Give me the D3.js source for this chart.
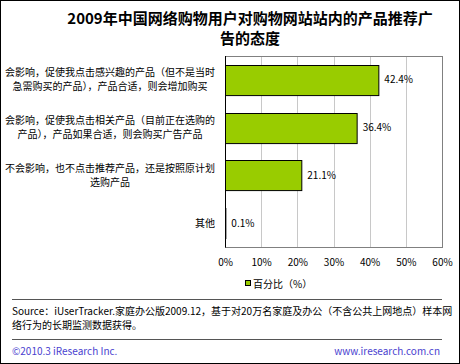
<!DOCTYPE html>
<html>
<head>
<meta charset="utf-8">
<script src="https://cdn.jsdelivr.net/npm/d3@7"></script>
<style>
  body { margin: 0; background: #fff; }
  svg text { font-family: "Noto Sans CJK SC", "DejaVu Sans", sans-serif; }
</style>
</head>
<body>
<div id="chart"></div>
<script>
var categories = [
  ["会影响，促使我点击感兴趣的产品（但不是当时", "急需购买的产品），产品合适，则会增加购买"],
  ["会影响，促使我点击相关产品（目前正在选购的", "产品），产品如果合适，则会购买广告产品"],
  ["不会影响，也不点击推荐产品，还是按照原计划", "选购产品"],
  ["其他"]
];
var values = [42.4, 36.4, 21.1, 0.1];
var tickValues = [0, 10, 20, 30, 40, 50, 60];
var titleLines = ["2009年中国网络购物用户对购物网站站内的产品推荐广", "告的态度"];
var legendLabel = "百分比（%）";
var sourceLines = ["Source：iUserTracker.家庭办公版2009.12，基于对20万名家庭及办公（不含公共上网地点）样本网", "络行为的长期监测数据获得。"];

var svgWidth = 460;
var svgHeight = 364;
var margin = { top: 56, right: 18, bottom: 117, left: 225 };
var chartWidth = 442 - margin.left;
var chartHeight = svgHeight - margin.top - margin.bottom;

var svg = d3.select("#chart")
  .append("svg")
  .attr("width", svgWidth)
  .attr("height", svgHeight);

// outer frame
svg.append("rect")
  .attr("x", 0.5).attr("y", 0.5)
  .attr("width", svgWidth - 1).attr("height", svgHeight - 1)
  .attr("fill", "#fff").attr("stroke", "#000");

// title
svg.append("g").selectAll("text")
  .data(titleLines)
  .enter().append("text")
  .attr("x", 250)
  .attr("y", (d, i) => 24 + i * 20)
  .attr("text-anchor", "middle")
  .style("font-size", "15px")
  .style("font-weight", "bold")
  .text(d => d);

var chartGroup = svg.append("g")
  .attr("transform", `translate(${margin.left},${margin.top})`);

var x = d3.scaleLinear().domain([0, 60]).range([0, chartWidth]);
var y = d3.scaleBand().domain(d3.range(categories.length)).range([0, chartHeight]).paddingInner(0.37).paddingOuter(0.185);

// grid lines
chartGroup.append("g")
  .selectAll("line")
  .data(tickValues.slice(1, -1))
  .enter().append("line")
  .attr("x1", d => Math.round(x(d)) + 0.5)
  .attr("x2", d => Math.round(x(d)) + 0.5)
  .attr("y1", 0).attr("y2", chartHeight)
  .attr("stroke", "#c8c8c8");

// plot border
chartGroup.append("rect")
  .attr("x", 0.5).attr("y", 0.5)
  .attr("width", chartWidth).attr("height", chartHeight)
  .attr("fill", "none").attr("stroke", "#808080");

// bars
chartGroup.selectAll("rect.bar")
  .data(values)
  .enter().append("rect")
  .classed("bar", true)
  .attr("x", 0.5)
  .attr("y", (d, i) => Math.round(y(i)) + 0.5)
  .attr("width", d => x(d))
  .attr("height", y.bandwidth())
  .attr("fill", "#99cc00")
  .attr("stroke", "#000");

// left axis line
chartGroup.append("line")
  .attr("x1", 0.5).attr("x2", 0.5)
  .attr("y1", 0).attr("y2", chartHeight + 0.5)
  .attr("stroke", "#000");

// value labels
chartGroup.selectAll("text.val")
  .data(values)
  .enter().append("text")
  .classed("val", true)
  .attr("x", d => x(d) + 6)
  .attr("y", (d, i) => y(i) + y.bandwidth() / 2)
  .attr("dy", "0.35em")
  .style("font-size", "10px")
  .text(d => d.toFixed(1) + "%");

// x axis tick labels
var xAxis = chartGroup.append("g")
  .attr("transform", `translate(0, ${chartHeight})`)
  .call(d3.axisBottom(x).tickValues(tickValues).tickFormat(d => d + "%").tickSize(0).tickPadding(12));
xAxis.select(".domain").remove();
xAxis.selectAll("text")
  .style("font-size", "10px")
  .style("font-family", "\"Noto Sans CJK SC\", sans-serif")
  .attr("fill", "#000");

// category labels
var labelGroup = svg.append("g");
categories.forEach(function (lines, i) {
  var cy = margin.top + y(i) + y.bandwidth() / 2;
  var g = labelGroup.append("g");
  var texts = g.selectAll("text")
    .data(lines)
    .enter().append("text")
    .attr("y", (d, j) => cy + (j - (lines.length - 1) / 2) * 14)
    .attr("dy", "0.35em")
    .attr("text-anchor", "middle")
    .style("font-size", "10px")
    .text(d => d);
  var maxW = 0;
  texts.each(function () { maxW = Math.max(maxW, this.getComputedTextLength()); });
  texts.attr("x", 215 - maxW / 2);
});

// legend
var legend = svg.append("g").attr("transform", "translate(245, 285)");
legend.append("rect")
  .attr("x", 0.5).attr("y", -4.5)
  .attr("width", 5).attr("height", 5)
  .attr("fill", "#99cc00").attr("stroke", "#000");
legend.append("text")
  .attr("x", 8).attr("y", 0)
  .attr("dy", "0.3em")
  .style("font-size", "10px")
  .text(legendLabel);

// separators
[299.5, 339.5].forEach(function (yy) {
  svg.append("line")
    .attr("x1", 12).attr("x2", 442)
    .attr("y1", yy).attr("y2", yy)
    .attr("stroke", "#555");
});

// source
svg.append("g").selectAll("text")
  .data(sourceLines)
  .enter().append("text")
  .attr("x", 12)
  .attr("y", (d, i) => 315 + i * 14)
  .style("font-size", "10px")
  .text(d => d);

// footer
svg.append("text")
  .attr("x", 12).attr("y", 355)
  .style("font-size", "10px")
  .attr("fill", "#4a3fcf")
  .text("©2010.3  iResearch Inc.");
svg.append("text")
  .attr("x", 440).attr("y", 355)
  .attr("text-anchor", "end")
  .style("font-size", "10px")
  .attr("fill", "#4a3fcf")
  .text("www.iresearch.com.cn");
</script>
</body>
</html>
